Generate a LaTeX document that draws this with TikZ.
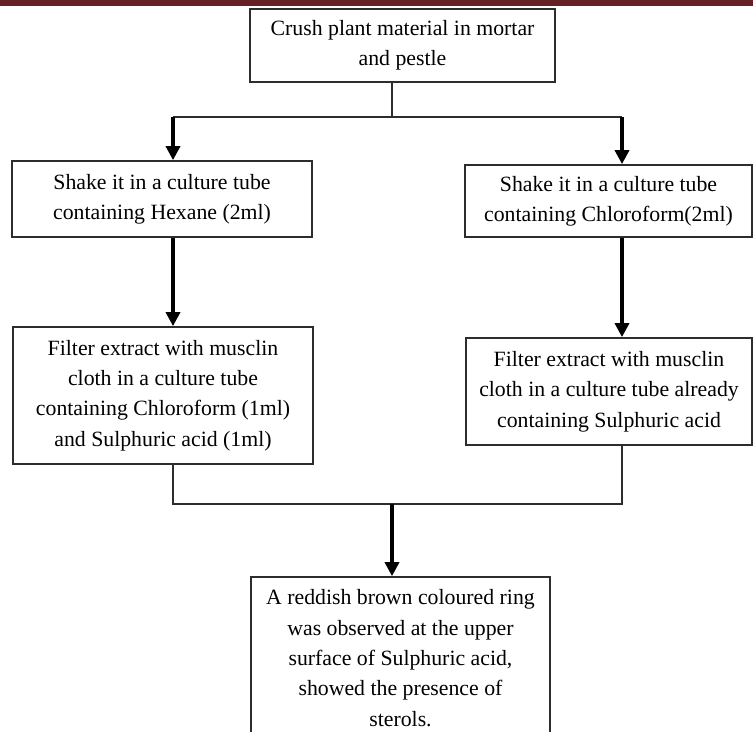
\documentclass[tikz,border=0pt]{standalone}
\usepackage{fontspec}
\setmainfont{Liberation Serif}
\usepackage{tikz}
\usetikzlibrary{positioning, arrows.meta}
\definecolor{barred}{RGB}{100,32,34}
\definecolor{edgegray}{RGB}{45,45,45}

\begin{document}
\begin{tikzpicture}[x=0.02cm, y=-0.02cm,
  box/.style={draw=edgegray, line width=1pt, rectangle, align=center, inner sep=2pt,
    font=\fontsize{12.4pt}{17.3pt}\selectfont},
  link/.style={line width=0.7pt, draw=edgegray},
  arr/.style={-{Triangle[length=8pt, width=8pt]}, line width=1.9pt}]
\useasboundingbox (0,0) rectangle (753,731);
\clip (0,0) rectangle (753,731);

% Header bar
\fill[barred] (0,0) rectangle (753,6);

% Start
\node (crush) at (402.5, 45.5) [box, minimum width=6.1cm, minimum height=1.46cm] {Crush plant material in mortar\\and pestle};

% Hexane side
\node (hexane) at (162, 199) [box, minimum width=6.0cm, minimum height=1.52cm] {Shake it in a culture tube\\containing Hexane (2ml)};
\node (filterhex) at (163, 395.5) [box, minimum width=6.0cm, minimum height=2.74cm] {Filter extract with musclin\\cloth in a culture tube\\containing Chloroform (1ml)\\and Sulphuric acid (1ml)};

% Chloroform side
\node (chloro) at (608.5, 201) [box, minimum width=5.74cm, minimum height=1.44cm] {Shake it in a culture tube\\containing Chloroform(2ml)};
\node (filterchl) at (609, 391.5) [box, minimum width=5.72cm, minimum height=2.14cm] {Filter extract with musclin\\cloth in a culture tube already\\containing Sulphuric acid};

% Result
\node (result) at (400.5, 658) [box, minimum width=5.98cm, minimum height=3.24cm] {A reddish brown coloured ring\\was observed at the upper\\surface of Sulphuric acid,\\showed the presence of\\sterols.};

% Branch points
\coordinate (split) at (392, 117);
\coordinate (lbend) at (173, 117);
\coordinate (rbend) at (622, 117);
\coordinate (merge) at (392, 504);

\draw[link] (crush.south -| split) -- (split);
\draw[link] (lbend) -- (rbend);
\draw[arr] (lbend) -- (hexane.north -| lbend);
\draw[arr] (rbend) -- (chloro.north -| rbend);
\draw[arr] (hexane.south -| lbend) -- (filterhex.north -| lbend);
\draw[arr] (chloro.south -| rbend) -- (filterchl.north -| rbend);
\draw[link] (filterhex.south -| lbend) |- (merge);
\draw[link] (filterchl.south -| rbend) |- (merge);
\draw[arr] (merge) -- (result.north -| merge);
\end{tikzpicture}
\end{document}
